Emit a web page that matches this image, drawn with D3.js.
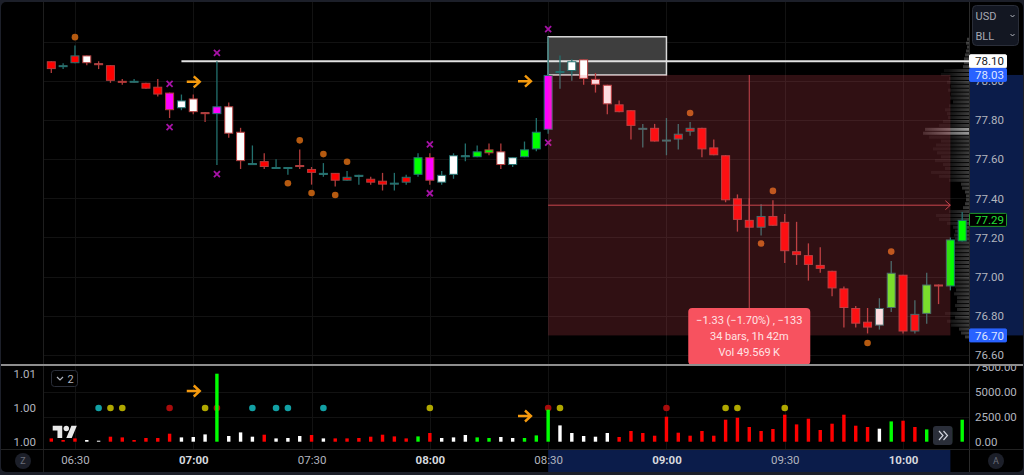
<!DOCTYPE html>
<html>
<head>
<meta charset="utf-8">
<script src="https://cdn.jsdelivr.net/npm/d3@7"></script>
<style>
    html, body { margin: 0; padding: 0; background: #1c1f29; overflow: hidden; }
    svg { display: block; font-family: Roboto, sans-serif; }
    .axis path, .axis line { display: none; }
    .axis text { font-family: Roboto, sans-serif; font-size: 11.5px; fill: #b2b5be; }
</style>
</head>
<body>
<svg id="chart" width="1024" height="475"></svg>
<script>

/* Candles, 3 minute bars from 06:24 */
let opens = [
    78.10, 78.07, 78.09, 78.13, 78.09, 78.08, 78.00, 77.99, 77.99, 77.97,
    77.94, 77.86, 77.91, 77.84, 77.83, 77.87, 77.74, 77.58, 77.59, 77.56,
    77.55, 77.57, 77.55, 77.53, 77.53, 77.49, 77.52, 77.50, 77.49, 77.47,
    77.48, 77.52, 77.61, 77.48, 77.52, 77.62, 77.61, 77.65, 77.64, 77.57,
    77.61, 77.65, 77.75, 78.04, 78.05, 78.11, 78.01, 77.98, 77.88, 77.85,
    77.76, 77.76, 77.70, 77.70, 77.74, 77.76, 77.66, 77.62, 77.40, 77.29,
    77.25, 77.31, 77.28, 77.13, 77.11, 77.06, 77.03, 76.94, 76.84, 76.77,
    76.75, 76.84, 77.01, 76.72, 76.81, 76.96, 76.95, 77.18];
let closes = [
    78.06, 78.08, 78.13, 78.09, 78.08, 78.00, 77.99, 78.00, 77.96, 77.93,
    77.85, 77.90, 77.84, 77.83, 77.87, 77.73, 77.59, 77.58, 77.56, 77.56,
    77.56, 77.56, 77.53, 77.53, 77.49, 77.51, 77.52, 77.48, 77.47, 77.48,
    77.51, 77.61, 77.49, 77.52, 77.62, 77.62, 77.64, 77.63, 77.57, 77.61,
    77.65, 77.74, 78.03, 78.05, 78.10, 78.01, 77.98, 77.88, 77.84, 77.77,
    77.76, 77.69, 77.70, 77.73, 77.76, 77.65, 77.62, 77.39, 77.29, 77.25,
    77.31, 77.26, 77.13, 77.11, 77.06, 77.04, 76.94, 76.84, 76.76, 76.74,
    76.84, 77.02, 76.72, 76.81, 76.96, 76.95, 77.19, 77.29];
let highs = [
    78.10, 78.09, 78.18, 78.13, 78.10, 78.08, 78.01, 78.01, 77.99, 78.01,
    77.94, 77.93, 77.93, 77.84, 78.10, 77.89, 77.76, 77.67, 77.63, 77.60,
    77.56, 77.65, 77.56, 77.58, 77.53, 77.54, 77.52, 77.51, 77.53, 77.53,
    77.52, 77.63, 77.63, 77.54, 77.63, 77.68, 77.67, 77.68, 77.68, 77.61,
    77.69, 77.81, 78.225, 78.13, 78.11, 78.11, 78.04, 77.98, 77.90, 77.85,
    77.78, 77.78, 77.81, 77.78, 77.79, 77.76, 77.70, 77.62, 77.42, 77.40,
    77.37, 77.39, 77.32, 77.28, 77.17, 77.15, 77.03, 76.95, 76.85, 76.84,
    76.89, 77.08, 77.01, 76.88, 77.02, 76.96, 77.20, 77.33];
let lows = [
    78.04, 78.06, 78.09, 78.08, 78.06, 77.99, 77.98, 77.99, 77.96, 77.92,
    77.81, 77.85, 77.83, 77.79, 77.57, 77.71, 77.55, 77.57, 77.55, 77.55,
    77.52, 77.55, 77.47, 77.51, 77.46, 77.49, 77.47, 77.47, 77.44, 77.44,
    77.47, 77.51, 77.47, 77.47, 77.50, 77.59, 77.61, 77.62, 77.55, 77.56,
    77.61, 77.64, 77.73, 77.96, 78.00, 77.98, 77.94, 77.83, 77.84, 77.70,
    77.66, 77.69, 77.62, 77.65, 77.72, 77.61, 77.62, 77.38, 77.23, 77.25,
    77.21, 77.26, 77.07, 77.06, 76.98, 77.02, 76.90, 76.74, 76.74, 76.71,
    76.73, 76.82, 76.71, 76.71, 76.76, 76.86, 76.93, 77.18];
// body fill per bar: r red, w white, m magenta, g green, l lime
let bodyKinds = ("rrrwwrrrrr" + "mwwwmwwwrw" + "wwrwrrwrrr" + "rgmwwwggww" + "ggmwwwwwrr" +
    "rrrrrrrrrr" + "rrrrrrrrrr" + "wlrrlggg").split("");

/* Volume pane */
let volumes = [
    330, 170, 330, 170, 100, 500, 430, 170, 370, 370,
    800, 430, 470, 730, 6800, 570, 930, 500, 700, 330,
    370, 570, 670, 330, 330, 330, 370, 500, 700, 530,
    330, 530, 870, 370, 430, 670, 430, 370, 470, 370,
    370, 630, 3200, 1630, 870, 570, 500, 870, 470, 1070,
    870, 600, 2500, 900, 600, 1070, 600, 2200, 2400, 1470,
    1070, 1270, 2700, 1730, 2300, 1170, 1800, 2700, 1600, 1470,
    1300, 2030, 2100, 1470, 1230, 800, 1400, 2200];
let volumeKinds = ("rrrwwrrrrr" + "rwwwgwwwrw" + "wwrwrrrrrr" + "rgrwwwggww" + "gggwwwwwrr" +
    "rrrrrrrrrr" + "rrrrrrrrrr" + "wgrrgrgg").split("");

/* Markers */
let orangeBars = [2, 20, 21, 22, 23, 24, 25, 54, 60, 61, 69, 71];
let orangePrices = [78.223, 77.477, 77.696, 77.427, 77.626, 77.417, 77.587, 77.836, 77.169, 77.438, 76.661, 77.128];
let crossBars = [10, 10, 14, 14, 32, 32, 42, 42];
let crossPrices = [77.984, 77.764, 78.143, 77.524, 77.676, 77.426, 78.264, 77.684];
let arrowBars = [12, 40];
let arrowPrices = [77.995, 77.998];
let arrowVolumes = [5070, 2570];

let signalBars = [4, 5, 6, 10, 13, 14, 17, 19, 20, 23, 32, 42, 43, 52, 57, 58, 62];
let signalKinds = ["t", "y", "y", "d", "y", "d", "t", "t", "t", "t", "y", "d", "y", "d", "y", "y", "y"];
let signalLevel = 3370;

/* Volume profile on the price scale, one row per 0.02 starting at 78.22 */
let profileTop = 78.22;
let profileStep = 0.02;
let profileSizes = [
    2, 3, 2, 3, 4, 5, 5, 6, 25, 28,
    20, 22, 18, 21, 18, 19, 16, 20, 24, 22,
    21, 26, 30, 44, 46, 40, 28, 33, 36, 32,
    28, 34, 26, 24, 38, 30, 20, 8, 7, 4,
    3, 3, 4, 6, 20, 33, 30, 22, 16, 14,
    15, 14, 16, 18, 14, 17, 16, 14, 15, 18,
    16, 16, 15, 14, 13, 15, 12, 12, 14, 12,
    24, 14, 22, 18, 10, 8, 4];
let profileBright = [23, 24];

/* Axes */
let priceTicks = [78.2, 78.0, 77.8, 77.6, 77.4, 77.2, 77.0, 76.8, 76.6];
let priceLabelTicks = [78.0, 77.8, 77.6, 77.4, 77.2, 77.0, 76.8, 76.6];
let volumeTicks = [0, 2500, 5000, 7500];
let volumeGrid = [2500, 5000];
let leftTicks = [6800, 3400, 0];
let leftLabels = ["1.01", "1.00", "1.00"];
let timeTicks = [2, 12, 22, 32, 42, 52, 62, 72];
let timeLabels = ["06:30", "07:00", "07:30", "08:00", "08:30", "09:00", "09:30", "10:00"];
let timeBold = ["07:00", "08:00", "09:00", "10:00"];

/* Drawing tools */
let linePrice = 78.10, lineStartBar = 11;
let boxBars = [42, 52], boxPrices = [78.225, 78.03];
let measureBars = [42, 76], measurePrices = [78.03, 76.70];
let lastPrice = 77.29;
let tooltipLines = ["\u22121.33 (\u22121.70%) , \u2212133", "34 bars, 1h 42m", "Vol 49.569\u2009K"];

let fillColors = { r: "#ff0000", w: "#ffffff", m: "#ff00ff", g: "#00ff00", l: "#5cff20" };
let signalColors = { t: "#12a0a4", y: "#b0a800", d: "#a80c0c" };
let bullColor = "#23706e", bearColor = "#b23c3c";

let svg = d3.select("#chart");

let paneLeft = 43, paneRight = 969, priceBottom = 365, volumeBottom = 449;

let x = d3.scaleLinear().domain([0, 77]).range([51.3, 962.2]);
let y = d3.scaleLinear().domain([77.8, 76.6]).range([120, 355]);
let v = d3.scaleLinear().domain([0, 7500]).range([441.7, 366.7]);
let profileX = d3.scaleLinear().domain([0, 46]).range([paneRight, paneRight - 46]);

// background
svg.append("rect").attr("x", 1).attr("y", 2).attr("width", 1022).attr("height", 470)
    .attr("rx", 5).attr("fill", "#000");

let defs = svg.append("defs");
let profileFade = defs.append("linearGradient").attr("id", "profileFade")
    .attr("gradientUnits", "userSpaceOnUse")
    .attr("x1", paneRight - 46).attr("x2", paneRight).attr("y1", 0).attr("y2", 0);
profileFade.append("stop").attr("offset", "0%").attr("stop-color", "#fff").attr("stop-opacity", 0.05);
profileFade.append("stop").attr("offset", "55%").attr("stop-color", "#fff").attr("stop-opacity", 0.06);
profileFade.append("stop").attr("offset", "100%").attr("stop-color", "#fff").attr("stop-opacity", 0.24);
let brightFade = defs.append("linearGradient").attr("id", "brightFade")
    .attr("gradientUnits", "userSpaceOnUse")
    .attr("x1", paneRight - 46).attr("x2", paneRight).attr("y1", 0).attr("y2", 0);
brightFade.append("stop").attr("offset", "0%").attr("stop-color", "#fff").attr("stop-opacity", 0.14);
brightFade.append("stop").attr("offset", "100%").attr("stop-color", "#fff").attr("stop-opacity", 0.6);
// the top volume label is cut off by the pane separator
defs.append("clipPath").attr("id", "volumeClip").append("rect")
    .attr("x", paneRight).attr("width", 55).attr("y", priceBottom + 1).attr("height", 84);

// blue ranges on the axes
svg.append("rect").attr("x", paneRight).attr("width", 1023 - paneRight)
    .attr("y", y(measurePrices[0])).attr("height", y(measurePrices[1]) - y(measurePrices[0]))
    .attr("fill", "#0b1c4a");
svg.append("rect").attr("x", x(measureBars[0])).attr("width", x(measureBars[1]) - x(measureBars[0]))
    .attr("y", volumeBottom + 1).attr("height", 22)
    .attr("fill", "#0b1c4a");

// grid
let grid = svg.append("g").attr("stroke", "#121212").attr("stroke-width", 1);
grid.selectAll(".gridPrice")
    .data(priceTicks)
    .enter()
    .append("line")
    .attr("x1", paneLeft).attr("x2", paneRight)
    .attr("y1", function (d) { return Math.round(y(d)) + 0.5; })
    .attr("y2", function (d) { return Math.round(y(d)) + 0.5; });
grid.selectAll(".gridVolume")
    .data(volumeGrid)
    .enter()
    .append("line")
    .attr("x1", paneLeft).attr("x2", paneRight)
    .attr("y1", function (d) { return Math.round(v(d)) + 0.5; })
    .attr("y2", function (d) { return Math.round(v(d)) + 0.5; });
grid.selectAll(".gridTime")
    .data(timeTicks)
    .enter()
    .append("line")
    .attr("y1", 2).attr("y2", volumeBottom)
    .attr("x1", function (d) { return Math.round(x(d)) + 0.5; })
    .attr("x2", function (d) { return Math.round(x(d)) + 0.5; });

// pane borders
svg.append("line").attr("x1", paneLeft + 0.5).attr("x2", paneLeft + 0.5).attr("y1", 2).attr("y2", 472).attr("stroke", "#1e1e1e");
svg.append("line").attr("x1", paneRight + 0.5).attr("x2", paneRight + 0.5).attr("y1", 2).attr("y2", 472).attr("stroke", "#2a2a2a");
svg.append("line").attr("x1", 1).attr("x2", 1023).attr("y1", volumeBottom + 0.5).attr("y2", volumeBottom + 0.5).attr("stroke", "#222");

// volume profile
svg.append("g").selectAll("rect")
    .data(profileSizes)
    .enter()
    .append("rect")
    .attr("x", function (d) { return profileX(d); })
    .attr("width", function (d) { return paneRight - profileX(d); })
    .attr("y", function (d, i) { return y(profileTop - i * profileStep); })
    .attr("height", 3)
    .attr("fill", function (d, i) { return profileBright.indexOf(i) >= 0 ? "url(#brightFade)" : "url(#profileFade)"; });

// grey box and the white level line
svg.append("rect")
    .attr("x", x(boxBars[0])).attr("width", x(boxBars[1]) - x(boxBars[0]))
    .attr("y", y(boxPrices[0])).attr("height", y(boxPrices[1]) - y(boxPrices[0]))
    .attr("fill", "#3e3e3e").attr("stroke", "#d8d8d8").attr("stroke-width", 1.5);
svg.append("line")
    .attr("x1", x(lineStartBar)).attr("x2", paneRight)
    .attr("y1", y(linePrice)).attr("y2", y(linePrice))
    .attr("stroke", "#e2e2e2").attr("stroke-width", 2);

// candles
let candles = svg.append("g").selectAll("g")
    .data(d3.range(opens.length))
    .enter()
    .append("g");
candles.append("line")
    .attr("x1", function (i) { return x(i); })
    .attr("x2", function (i) { return x(i); })
    .attr("y1", function (i) { return y(highs[i]); })
    .attr("y2", function (i) { return y(lows[i]); })
    .attr("stroke", function (i) { return closes[i] >= opens[i] ? bullColor : bearColor; })
    .attr("stroke-width", 1.3);
candles.append("rect")
    .attr("x", function (i) { return x(i) - 4; })
    .attr("width", 8)
    .attr("y", function (i) { return y(Math.max(opens[i], closes[i])) + 0.5; })
    .attr("height", function (i) {
        return Math.max(y(Math.min(opens[i], closes[i])) - y(Math.max(opens[i], closes[i])) - 1, 1);
    })
    .attr("fill", function (i) { return fillColors[bodyKinds[i]]; })
    .attr("stroke", function (i) { return closes[i] >= opens[i] ? bullColor : bearColor; })
    .attr("stroke-width", 1);

// orange dots
svg.append("g").selectAll("circle")
    .data(orangeBars)
    .enter()
    .append("circle")
    .attr("cx", function (d) { return x(d); })
    .attr("cy", function (d, i) { return y(orangePrices[i]); })
    .attr("r", 3.3)
    .attr("fill", "#b55a10");

// magenta crosses
svg.append("g").selectAll("path")
    .data(crossBars)
    .enter()
    .append("path")
    .attr("transform", function (d, i) { return "translate(" + x(d) + "," + y(crossPrices[i]) + ")"; })
    .attr("d", "M-3,-3L3,3M-3,3L3,-3")
    .attr("stroke", "#a612a6").attr("stroke-width", 1.8).attr("fill", "none");

// orange arrows in both panes
let arrowShape = "M-6.5,0L6.5,0M0.5,-5.5L6.5,0L0.5,5.5";
svg.append("g").selectAll("path")
    .data(arrowBars)
    .enter()
    .append("path")
    .attr("transform", function (d, i) { return "translate(" + x(d) + "," + y(arrowPrices[i]) + ")"; })
    .attr("d", arrowShape)
    .attr("stroke", "#f59a0e").attr("stroke-width", 2.4).attr("fill", "none");
svg.append("g").selectAll("path")
    .data(arrowBars)
    .enter()
    .append("path")
    .attr("transform", function (d, i) { return "translate(" + x(d) + "," + v(arrowVolumes[i]) + ")"; })
    .attr("d", arrowShape)
    .attr("stroke", "#f59a0e").attr("stroke-width", 2.4).attr("fill", "none");

// measure overlay goes over the candles
let midBar = (measureBars[0] + measureBars[1]) / 2;
let midPrice = (measurePrices[0] + measurePrices[1]) / 2;
svg.append("rect")
    .attr("x", x(measureBars[0])).attr("width", x(measureBars[1]) - x(measureBars[0]))
    .attr("y", y(measurePrices[0])).attr("height", y(measurePrices[1]) - y(measurePrices[0]))
    .attr("fill", "#f7525f").attr("fill-opacity", 0.195);
svg.append("line")
    .attr("x1", x(midBar)).attr("x2", x(midBar))
    .attr("y1", y(measurePrices[0])).attr("y2", y(measurePrices[1]))
    .attr("stroke", "#c8444e").attr("stroke-width", 1);
svg.append("line")
    .attr("x1", x(measureBars[0])).attr("x2", x(measureBars[1]))
    .attr("y1", y(midPrice)).attr("y2", y(midPrice))
    .attr("stroke", "#c8444e").attr("stroke-width", 1);
svg.append("path")
    .attr("transform", "translate(" + x(measureBars[1]) + "," + y(midPrice) + ")")
    .attr("d", "M-5,-4.5L0,0L-5,4.5")
    .attr("stroke", "#c8444e").attr("fill", "none");

// tooltip
let tip = svg.append("g").attr("transform", "translate(" + x(midBar) + ",308)");
tip.append("rect").attr("x", -61).attr("width", 122).attr("y", 0).attr("height", 57)
    .attr("rx", 4).attr("fill", "#f7525f");
tip.selectAll("text")
    .data(tooltipLines)
    .enter()
    .append("text")
    .attr("y", function (d, i) { return 16 + i * 16; })
    .attr("text-anchor", "middle")
    .attr("font-size", 11)
    .attr("fill", "#ffe3e5")
    .text(function (d) { return d; });

// separator between the panes
svg.append("line").attr("x1", 1).attr("x2", 1023).attr("y1", priceBottom).attr("y2", priceBottom)
    .attr("stroke", "#8e8e8e").attr("stroke-width", 2);

// signal dots
svg.append("g").selectAll("circle")
    .data(signalBars)
    .enter()
    .append("circle")
    .attr("cx", function (d) { return x(d); })
    .attr("cy", v(signalLevel))
    .attr("r", 3.3)
    .attr("fill", function (d, i) { return signalColors[signalKinds[i]]; });

// volume bars
svg.append("g").selectAll("rect")
    .data(volumes)
    .enter()
    .append("rect")
    .attr("x", function (d, i) { return x(i) - 1.7; })
    .attr("width", 3.4)
    .attr("y", function (d) { return v(d); })
    .attr("height", function (d) { return v(0) - v(d); })
    .attr("fill", function (d, i) { return fillColors[volumeKinds[i]]; });

// axes
svg.append("g").attr("class", "axis")
    .attr("transform", "translate(" + paneRight + ",0)")
    .call(d3.axisRight(y).tickValues(priceLabelTicks).tickFormat(d3.format(".2f")).tickSize(0).tickPadding(6));
svg.append("g").attr("class", "axis")
    .attr("clip-path", "url(#volumeClip)")
    .call(d3.axisRight(v).tickValues(volumeTicks).tickFormat(d3.format(".2f")).tickSize(0).tickPadding(6))
    .selectAll(".tick text")
    .attr("transform", "translate(" + paneRight + ",0)");
svg.append("g").attr("class", "axis")
    .attr("transform", "translate(" + paneLeft + ",0)")
    .call(d3.axisLeft(v).tickValues(leftTicks).tickFormat(function (d, i) { return leftLabels[i]; }).tickSize(0).tickPadding(7));
let timeAxis = svg.append("g").attr("class", "axis")
    .attr("transform", "translate(0," + volumeBottom + ")")
    .call(d3.axisBottom(x).tickValues(timeTicks).tickFormat(function (d, i) { return timeLabels[i]; }).tickSize(0).tickPadding(7));
timeAxis.selectAll("text")
    .attr("font-weight", function (d, i) { return timeBold.indexOf(timeLabels[i]) >= 0 ? 700 : 400; })
    .style("fill", function (d, i) { return timeBold.indexOf(timeLabels[i]) >= 0 ? "#d6d8de" : "#b2b5be"; });

// price boxes on the right axis
function priceBox(price, fill, stroke, color) {
    svg.append("rect")
        .attr("x", paneRight + 0.5).attr("width", 37)
        .attr("y", y(price) - 6.5).attr("height", 13)
        .attr("rx", 1)
        .attr("fill", fill).attr("stroke", stroke);
    svg.append("text")
        .attr("x", paneRight + 6).attr("y", y(price) + 4.2)
        .attr("font-size", 11.5).attr("fill", color)
        .text(d3.format(".2f")(price));
}
priceBox(linePrice, "#ffffff", "#ffffff", "#131722");
priceBox(measurePrices[0], "#2962ff", "#2962ff", "#dfe6ff");
priceBox(measurePrices[1], "#2962ff", "#2962ff", "#dfe6ff");
priceBox(lastPrice, "#000000", "#1f9a2a", "#22e03a");

// currency and unit buttons
svg.append("rect").attr("x", 972.5).attr("y", 5.5).attr("width", 46).attr("height", 40)
    .attr("rx", 4).attr("fill", "#131722").attr("stroke", "#2a2e39");
svg.selectAll(".unit")
    .data(["USD", "BLL"])
    .enter()
    .append("text")
    .attr("x", 975.5)
    .attr("y", function (d, i) { return 20 + i * 19.5; })
    .attr("font-size", 11)
    .attr("fill", "#a6a9b3")
    .text(function (d) { return d; });
svg.selectAll(".unitArrow")
    .data([16, 35])
    .enter()
    .append("path")
    .attr("transform", function (d) { return "translate(1012.5," + d + ")"; })
    .attr("d", "M-2,-1L0,1L2,-1")
    .attr("stroke", "#b2b5be").attr("fill", "none");

// collapsed indicators badge
svg.append("rect").attr("x", 51.5).attr("y", 370.5).attr("width", 26).attr("height", 16)
    .attr("rx", 3).attr("fill", "#000").attr("stroke", "#2a2e39");
svg.append("path").attr("d", "M57,377L60,380L63,377").attr("stroke", "#b2b5be").attr("stroke-width", 1.2).attr("fill", "none");
svg.append("text").attr("x", 67.5).attr("y", 382.5).attr("font-size", 11).attr("fill", "#b2b5be").text("2");

// logo
let logo = svg.append("g").attr("transform", "translate(52.7,423) scale(0.68)").attr("fill", "#e8e8e8");
logo.append("path").attr("d", "M14 22H7V11H0V4h14v18zM28 22h-8l7.5-18h8L28 22z");
logo.append("circle").attr("cx", 20).attr("cy", 8).attr("r", 4);

// scroll button
svg.append("rect").attr("x", 933).attr("y", 426).attr("width", 19.5).attr("height", 19)
    .attr("rx", 3).attr("fill", "#2a2e39");
svg.append("path").attr("d", "M939,431L943,435.5L939,440M943.5,431L947.5,435.5L943.5,440")
    .attr("stroke", "#d1d4dc").attr("stroke-width", 1.2).attr("fill", "none");

// Z and A buttons
svg.selectAll(".corner")
    .data([{ cx: 23, label: "Z" }, { cx: 996, label: "A" }])
    .enter()
    .append("g")
    .attr("transform", function (d) { return "translate(" + d.cx + ",461)"; })
    .each(function (d) {
        d3.select(this).append("circle").attr("r", 8).attr("fill", "#1c1f29");
        d3.select(this).append("text").attr("y", 3.2).attr("text-anchor", "middle")
            .attr("font-size", 9).attr("fill", "#6a6d78").text(d.label);
    });

</script>
</body>
</html>
